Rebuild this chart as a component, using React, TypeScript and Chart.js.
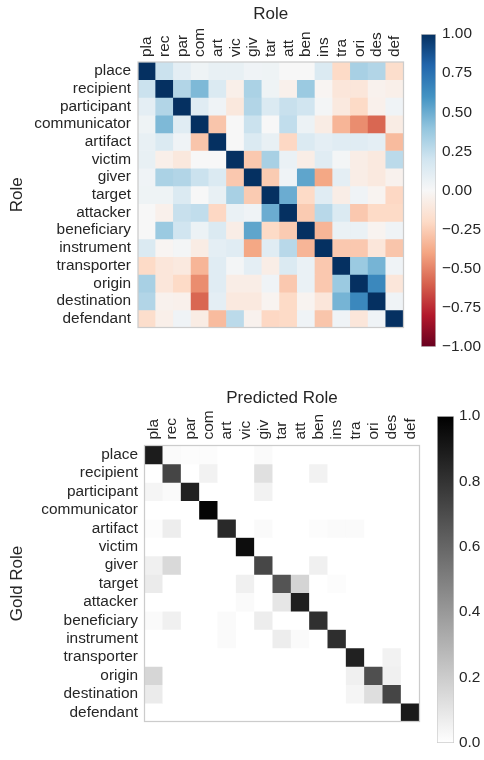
import React, { useEffect, useRef } from 'react';
import { Chart, registerables } from 'chart.js';

Chart.register(...registerables);

// ---------- data ----------
const roleNames = [
  'place', 'recipient', 'participant', 'communicator', 'artifact', 'victim', 'giver', 'target',
  'attacker', 'beneficiary', 'instrument', 'transporter', 'origin', 'destination', 'defendant',
];
const roleShort = ['pla', 'rec', 'par', 'com', 'art', 'vic', 'giv', 'tar', 'att', 'ben', 'ins', 'tra', 'ori', 'des', 'def'];

// correlation between roles (top panel)
const corrRows: number[][] = [
  [1, 0.22, 0.1, 0.05, 0.08, 0.08, 0.04, 0.05, 0.0, 0.0, 0.15, -0.2, 0.33, 0.3, -0.18],
  [0.22, 1, 0.3, 0.45, 0.15, -0.06, 0.32, 0.05, -0.05, 0.37, -0.02, -0.12, -0.12, -0.04, -0.06],
  [0.1, 0.3, 1, 0.12, 0.04, -0.11, 0.3, 0.15, 0.23, 0.2, 0.02, -0.1, -0.2, -0.05, 0.04],
  [0.05, 0.45, 0.12, 1, -0.28, 0.0, 0.22, 0.0, 0.25, 0.06, -0.08, -0.34, -0.47, -0.58, -0.08],
  [0.08, 0.15, 0.04, -0.28, 1, 0.0, 0.15, 0.08, -0.21, 0.15, 0.1, 0.12, 0.12, 0.1, -0.32],
  [0.08, -0.06, -0.11, 0.0, 0.0, 1, -0.27, 0.33, 0.07, -0.07, 0.12, 0.02, -0.07, -0.1, 0.27],
  [0.04, 0.32, 0.3, 0.22, 0.15, -0.27, 1, -0.26, 0.04, 0.53, -0.39, 0.1, -0.07, -0.1, -0.04],
  [0.05, 0.05, 0.15, 0.0, 0.08, 0.33, -0.26, 1, 0.5, -0.2, 0.12, -0.07, 0.04, -0.03, -0.21],
  [0.0, -0.05, 0.23, 0.25, -0.21, 0.07, 0.04, 0.5, 1, -0.26, 0.28, 0.15, -0.27, -0.2, -0.2],
  [0.0, 0.37, 0.2, 0.06, 0.15, -0.07, 0.53, -0.2, -0.26, 1, -0.34, 0.07, 0.07, -0.03, 0.04],
  [0.15, -0.02, 0.02, -0.08, 0.1, 0.12, -0.39, 0.12, 0.28, -0.34, 1, -0.27, -0.27, -0.12, -0.28],
  [-0.2, -0.12, -0.1, -0.34, 0.12, 0.02, 0.1, -0.07, 0.15, 0.07, -0.27, 1, 0.37, 0.47, 0.04],
  [0.33, -0.12, -0.2, -0.47, 0.12, -0.07, -0.07, 0.04, -0.27, 0.07, -0.27, 0.37, 1, 0.65, -0.12],
  [0.3, -0.04, -0.05, -0.58, 0.1, -0.1, -0.1, -0.03, -0.2, -0.03, -0.12, 0.47, 0.65, 1, 0.04],
  [-0.18, -0.06, 0.04, -0.08, -0.32, 0.27, -0.04, -0.21, -0.2, 0.04, -0.28, 0.04, -0.12, 0.04, 1],
];

// confusion matrix gold vs predicted (bottom panel)
const confRows: number[][] = [
  [0.89, 0.02, 0.01, 0.01, 0, 0, 0.02, 0, 0, 0, 0, 0, 0, 0, 0],
  [0, 0.73, 0, 0.05, 0, 0, 0.12, 0, 0, 0.05, 0, 0, 0, 0, 0],
  [0.04, 0.02, 0.87, 0, 0, 0, 0.05, 0, 0, 0, 0, 0, 0, 0, 0],
  [0, 0, 0, 0.98, 0, 0, 0, 0, 0, 0, 0, 0, 0, 0, 0],
  [0.01, 0.07, 0, 0, 0.84, 0, 0.02, 0, 0, 0.01, 0.02, 0.02, 0, 0, 0],
  [0, 0, 0, 0, 0, 0.95, 0, 0, 0, 0, 0, 0, 0, 0, 0],
  [0.06, 0.15, 0, 0, 0, 0, 0.72, 0, 0, 0.06, 0, 0, 0, 0, 0],
  [0.08, 0, 0, 0, 0, 0.06, 0, 0.67, 0.17, 0, 0.01, 0, 0, 0, 0],
  [0, 0, 0, 0, 0, 0.02, 0, 0.1, 0.88, 0, 0, 0, 0, 0, 0],
  [0.02, 0.06, 0, 0, 0.02, 0, 0.07, 0, 0, 0.81, 0, 0, 0, 0, 0],
  [0, 0, 0, 0, 0.02, 0, 0, 0.07, 0.02, 0, 0.82, 0, 0, 0, 0],
  [0, 0, 0, 0, 0, 0, 0, 0, 0, 0, 0, 0.87, 0, 0.05, 0],
  [0.16, 0, 0, 0, 0, 0, 0, 0, 0, 0, 0, 0.06, 0.69, 0.06, 0],
  [0.08, 0, 0, 0, 0, 0, 0, 0, 0, 0, 0, 0.04, 0.13, 0.73, 0],
  [0, 0, 0, 0, 0, 0, 0, 0, 0, 0, 0, 0, 0, 0, 0.9],
];

const corrTickValues = [-1, -0.75, -0.5, -0.25, 0, 0.25, 0.5, 0.75, 1];
const corrTickLabels = ['\u22121.00', '\u22120.75', '\u22120.50', '\u22120.25', '0.00', '0.25', '0.50', '0.75', '1.00'];
const confTickValues = [0, 0.2, 0.4, 0.6, 0.8, 1];
const confTickLabels = ['0.0', '0.2', '0.4', '0.6', '0.8', '1.0'];

// ---------- styling ----------
const FONT = "'Liberation Sans', Arial, sans-serif";
const TEXT = '#262626';
const TICK_SIZE = 15.4;
const tickFont = { family: FONT, size: TICK_SIZE };
const titleFont = { family: FONT, size: 17 };

const RDBU = ['#67001f', '#b2182b', '#d6604d', '#f4a582', '#fddbc7', '#f7f7f7', '#d1e5f0', '#92c5de', '#4393c3', '#2166ac', '#053061'];
const GREY = ['#ffffff', '#000000'];

function hexToRgb(h: string) {
  return [parseInt(h.slice(1, 3), 16), parseInt(h.slice(3, 5), 16), parseInt(h.slice(5, 7), 16)];
}
function sample(stops: string[], t: number) {
  const tt = Math.max(0, Math.min(1, t)) * (stops.length - 1);
  const i = Math.min(stops.length - 2, Math.floor(tt));
  const f = tt - i;
  const a = hexToRgb(stops[i]);
  const b = hexToRgb(stops[i + 1]);
  const c = a.map((v, k) => Math.round(v + (b[k] - v) * f));
  return `rgb(${c[0]},${c[1]},${c[2]})`;
}
const rdbu = (v: number) => sample(RDBU, (v + 1) / 2);
const grey = (v: number) => sample(GREY, v);

const framePlugin = {
  id: 'frame',
  afterDatasetsDraw(chart: any) {
    const { left, top, right, bottom } = chart.chartArea;
    const ctx = chart.ctx;
    ctx.save();
    ctx.strokeStyle = '#cccccc';
    ctx.lineWidth = 1.25;
    ctx.strokeRect(left, top, right - left, bottom - top);
    ctx.restore();
  },
};

type HeatParams = {
  matrix: number[][];
  colorFn: (v: number) => string;
  xTitle: string;
  yTitle: string;
  yAxisWidth: number;
  xAxisHeight: number;
  pad: { left: number; top: number; right: number; bottom: number };
  xTitlePad: number;
  yTitlePad: number;
  xTickPad: number;
  yTickPad: number;
};

function heatmapConfig(p: HeatParams): any {
  const datasets = roleNames.map((name, r) => ({
    label: name,
    data: roleShort.map(() => [r, r + 1]),
    backgroundColor: p.matrix[r].map(p.colorFn),
    borderWidth: 0,
    grouped: false,
    barPercentage: 1,
    categoryPercentage: 1,
  }));
  return {
    type: 'bar',
    data: { labels: roleShort, datasets },
    options: {
      responsive: false,
      animation: false,
      devicePixelRatio: 1,
      events: [],
      layout: { padding: p.pad },
      plugins: { legend: { display: false }, tooltip: { enabled: false }, title: { display: false } },
      scales: {
        x: {
          position: 'top',
          grid: { display: false, drawTicks: false },
          border: { display: false },
          ticks: {
            autoSkip: false,
            minRotation: 90,
            maxRotation: 90,
            padding: p.xTickPad,
            labelOffset: TICK_SIZE * 1.2,
            color: TEXT,
            font: tickFont,
          },
          title: { display: true, text: p.xTitle, color: TEXT, font: titleFont, padding: { top: p.xTitlePad, bottom: 0 } },
          afterFit: (s: any) => {
            s.height = p.xAxisHeight;
            s.paddingLeft = 0; s.paddingRight = 0; s.paddingTop = 0; s.paddingBottom = 0;
          },
        },
        y: {
          type: 'linear',
          min: 0,
          max: roleNames.length,
          reverse: true,
          grid: { display: false, drawTicks: false },
          border: { display: false },
          afterBuildTicks: (s: any) => {
            s.ticks = roleNames.map((_, i) => ({ value: i + 0.5 }));
          },
          ticks: {
            autoSkip: false,
            padding: p.yTickPad,
            color: TEXT,
            font: tickFont,
            callback: (_v: any, i: number) => roleNames[i],
          },
          title: { display: true, text: p.yTitle, color: TEXT, font: titleFont, padding: { top: p.yTitlePad, bottom: 0 } },
          afterFit: (s: any) => {
            s.width = p.yAxisWidth;
            s.paddingLeft = 0; s.paddingRight = 0; s.paddingTop = 0; s.paddingBottom = 0;
          },
        },
      },
    },
    plugins: [framePlugin],
  };
}

type BarParams = {
  stops: string[];
  min: number;
  max: number;
  tickValues: number[];
  tickLabels: string[];
  pad: { left: number; top: number; right: number; bottom: number };
  axisWidth: number;
  tickPad: number;
};

function colorbarConfig(p: BarParams): any {
  return {
    type: 'bar',
    data: {
      labels: [''],
      datasets: [
        {
          data: [[p.min, p.max]],
          backgroundColor: (c: any) => {
            const a = c.chart.chartArea;
            if (!a) return 'transparent';
            const g = c.chart.ctx.createLinearGradient(0, a.bottom, 0, a.top);
            p.stops.forEach((s, i) => g.addColorStop(i / (p.stops.length - 1), s));
            return g;
          },
          borderColor: '#cccccc',
          borderWidth: 1,
          borderSkipped: false,
          barPercentage: 1,
          categoryPercentage: 1,
        },
      ],
    },
    options: {
      responsive: false,
      animation: false,
      devicePixelRatio: 1,
      events: [],
      layout: { padding: p.pad },
      plugins: { legend: { display: false }, tooltip: { enabled: false } },
      scales: {
        x: { display: false },
        y: {
          position: 'right',
          min: p.min,
          max: p.max,
          grid: { display: false, drawTicks: false },
          border: { display: false },
          afterBuildTicks: (s: any) => {
            s.ticks = p.tickValues.map((v) => ({ value: v }));
          },
          ticks: {
            autoSkip: false,
            padding: p.tickPad,
            color: TEXT,
            font: tickFont,
            callback: (_v: any, i: number) => p.tickLabels[i],
          },
          afterFit: (s: any) => {
            s.width = p.axisWidth;
            s.paddingTop = 0; s.paddingBottom = 0;
          },
        },
      },
    },
  };
}

function ChartBox(props: { left: number; top: number; width: number; height: number; make: () => any }) {
  const ref = useRef<HTMLCanvasElement>(null);
  useEffect(() => {
    const chart = new Chart(ref.current as HTMLCanvasElement, props.make());
    return () => chart.destroy();
  }, []);
  return (
    <canvas
      ref={ref}
      width={props.width}
      height={props.height}
      style={{ position: 'absolute', left: props.left, top: props.top, width: props.width, height: props.height }}
    />
  );
}

export default function App() {
  return (
    <div style={{ position: 'absolute', left: 0, top: 0, width: 484, height: 760, background: '#ffffff', overflow: 'hidden' }}>
      <ChartBox
        left={0}
        top={0}
        width={410}
        height={336}
        make={() =>
          heatmapConfig({
            matrix: corrRows,
            colorFn: rdbu,
            xTitle: 'Role',
            yTitle: 'Role',
            yAxisWidth: 138,
            xAxisHeight: 62,
            pad: { left: 0, top: 0, right: 6.5, bottom: 8.5 },
            xTitlePad: 4,
            yTitlePad: 7,
            xTickPad: 5,
            yTickPad: 7,
          })
        }
      />
      <ChartBox
        left={416}
        top={20}
        width={68}
        height={345}
        make={() =>
          colorbarConfig({
            stops: RDBU,
            min: -1,
            max: 1,
            tickValues: corrTickValues,
            tickLabels: corrTickLabels,
            pad: { left: 5, top: 14, right: 0, bottom: 18 },
            axisWidth: 48,
            tickPad: 6,
          })
        }
      />
      <ChartBox
        left={0}
        top={380}
        width={425}
        height={350}
        make={() =>
          heatmapConfig({
            matrix: confRows,
            colorFn: grey,
            xTitle: 'Predicted Role',
            yTitle: 'Gold Role',
            yAxisWidth: 144.5,
            xAxisHeight: 65.5,
            pad: { left: 0, top: 0, right: 5.5, bottom: 8.5 },
            xTitlePad: 8,
            yTitlePad: 7,
            xTickPad: 6,
            yTickPad: 6.5,
          })
        }
      />
      <ChartBox
        left={432}
        top={400}
        width={52}
        height={360}
        make={() =>
          colorbarConfig({
            stops: GREY,
            min: 0,
            max: 1,
            tickValues: confTickValues,
            tickLabels: confTickLabels,
            pad: { left: 5, top: 16, right: 0, bottom: 17 },
            axisWidth: 30,
            tickPad: 5,
          })
        }
      />
    </div>
  );
}
